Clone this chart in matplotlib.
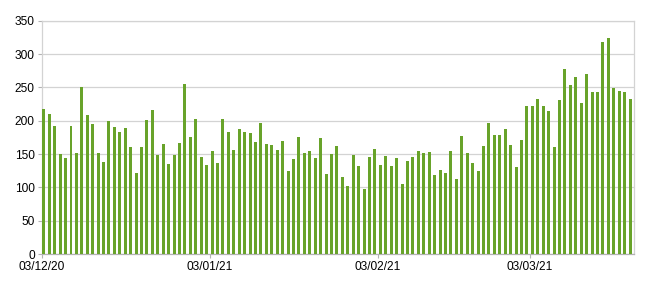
import matplotlib
matplotlib.use("Agg")
import matplotlib.pyplot as plt
import matplotlib.dates as mdates
import pandas as pd
import numpy as np

# daily values, 03/12/2020 .. 21/03/2021
start_date = "2020-12-03"
values_dec = [217, 210, 192, 150, 144, 192, 152, 251, 208, 195, 152, 138, 199, 191,
              183, 189, 160, 121, 161, 201, 216, 149, 165, 135, 148, 167, 256, 175,
              202, 145, 134, 154, 136]
values_jan = [202, 183, 156, 187, 183, 181, 168, 196, 165, 164, 156, 170, 124, 142,
              176, 152, 155, 144, 174, 120, 150, 162, 115, 102, 148, 132, 97, 145,
              158, 133, 147, 132, 144, 105, 139, 146, 155, 151, 153]
values_feb_mar = [118, 126, 122, 154, 113, 177, 151, 137, 125, 162, 197, 178, 178, 188,
                  163, 131, 171, 222, 222, 232, 222, 214, 161, 231, 278, 253, 266, 226,
                  270, 243, 243, 319, 324, 249, 244, 243, 232]
values = values_dec + values_jan + values_feb_mar
dates = pd.date_range(start_date, periods=len(values), freq="D")

tick_dates = pd.to_datetime(["2020-12-03", "2021-01-03", "2021-02-03", "2021-03-03"])
y_ticks = [0, 50, 100, 150, 200, 250, 300, 350]

BAR = "#68a32a"
GRID = "#d3d3d3"

plt.rcParams["font.family"] = ["Liberation Sans", "DejaVu Sans"]

fig = plt.figure(figsize=(6.5, 2.9), dpi=100)
ax = fig.add_axes([0.064, 0.124, 0.911, 0.804])

# bars sit a little right of their day tick
ax.bar(dates + pd.Timedelta(hours=10), values, width=0.55, color=BAR, zorder=3)

ax.set_xlim(dates[0], dates[0] + pd.Timedelta(days=109.1))
ax.set_ylim(0, 350)
ax.set_yticks(y_ticks)
ax.set_xticks(tick_dates)
ax.xaxis.set_major_formatter(mdates.DateFormatter("%d/%m/%y"))

ax.grid(axis="y", color=GRID, linewidth=0.9, zorder=0)
for side in ["top", "right", "left"]:
    ax.spines[side].set_color(GRID)
    ax.spines[side].set_linewidth(0.9)
ax.spines["bottom"].set_color("#b3b3b3")
ax.spines["bottom"].set_linewidth(0.9)

ax.tick_params(axis="both", labelsize=8.6, colors="#b3b3b3", labelcolor="#000000",
               length=3, width=0.8, pad=2)

fig.savefig("out.png", dpi=100)
